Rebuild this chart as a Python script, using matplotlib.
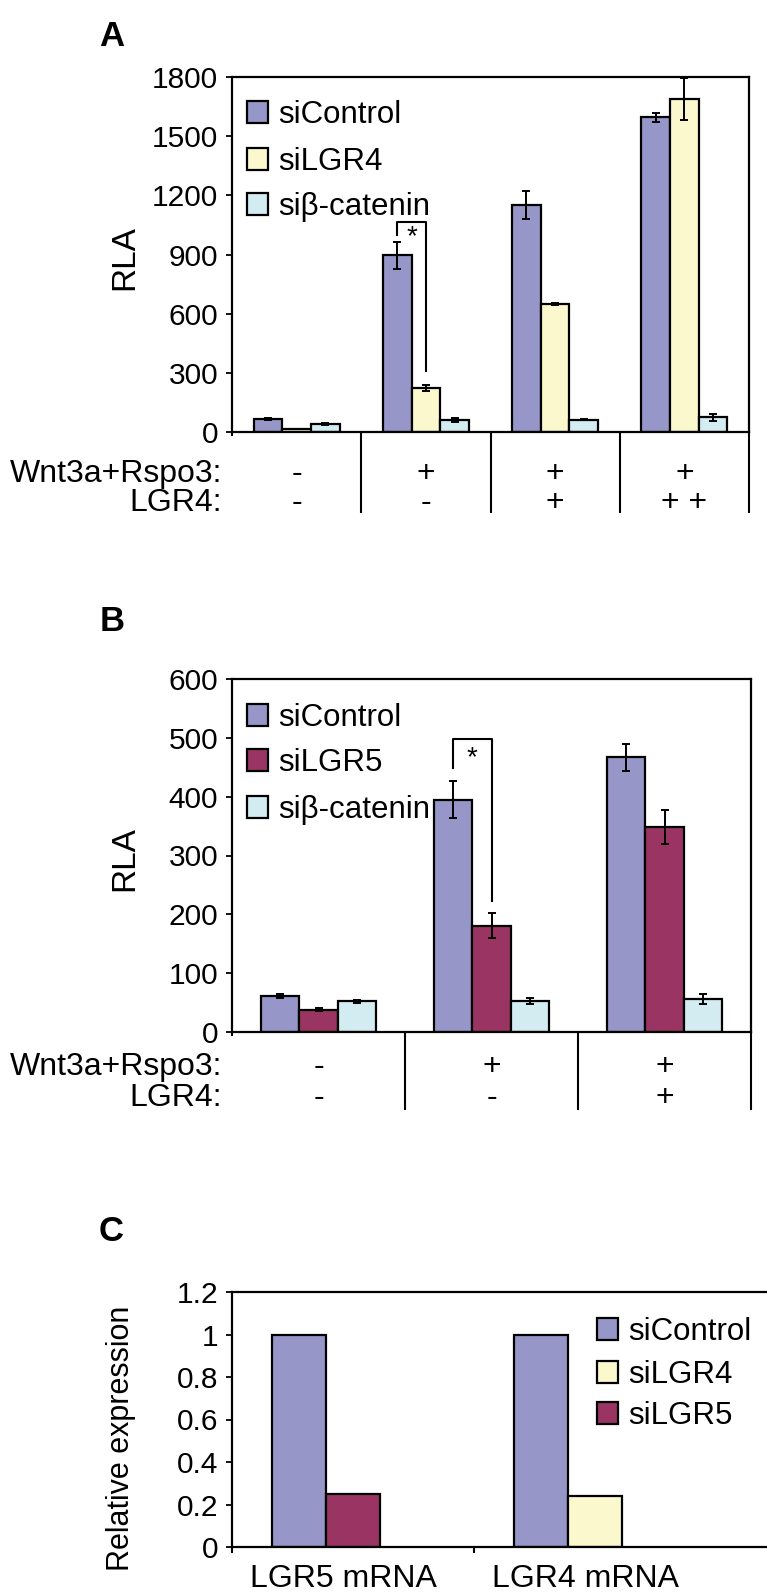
import numpy as np
import matplotlib
matplotlib.use("Agg")
import matplotlib.pyplot as plt
import matplotlib.transforms as mtransforms
from matplotlib.patches import Rectangle

plt.rcParams["font.family"] = ["Liberation Sans", "DejaVu Sans"]

# ---- data ----
series_a = ["siControl", "siLGR4", "siβ-catenin"]
a_control = [66, 895, 1150, 1595]
a_control_err = [6, 67, 70, 24]
a_lgr4 = [15, 222, 648, 1688]
a_lgr4_err = [2, 15, 6, 106]
a_bcat = [40, 60, 62, 75]
a_bcat_err = [5, 9, 2, 18]
a_wnt = ["-", "+", "+", "+"]
a_lgr4_row = ["-", "-", "+", "+ +"]

series_b = ["siControl", "siLGR5", "siβ-catenin"]
b_control = [61, 395, 467]
b_control_err = [4, 32, 23]
b_lgr5 = [38, 181, 349]
b_lgr5_err = [2, 22, 29]
b_bcat = [52, 52, 56]
b_bcat_err = [3, 5, 9]
b_wnt = ["-", "+", "+"]
b_lgr4_row = ["-", "-", "+"]

c_categories = ["LGR5 mRNA", "LGR4 mRNA"]
series_c = ["siControl", "siLGR4", "siLGR5"]
c_control = [1.0, 1.0]
c_lgr4 = [np.nan, 0.24]
c_lgr5 = [0.25, np.nan]

# brackets: (left leg bottom, top, right leg bottom, star y)
a_bracket = (1000, 1064, 310, 990)
b_bracket = (448, 498, 223, 466)

col_ctrl = "#9696C8"
col_lgr4 = "#FCF8CE"
col_bcat = "#D3ECF2"
col_lgr5 = "#9A3463"

W, H = 767, 1592
fig = plt.figure(figsize=(W / 100, H / 100), dpi=100)
pix = mtransforms.Affine2D().scale(1 / W, -1 / H).translate(0, 1) + fig.transFigure


def frect(l, t, r, b):
    return [l / W, 1 - b / H, (r - l) / W, (b - t) / H]


bw = 1 / 4.5
FS_TICK = 21.5
FS_TXT = 23


def style_axes(ax, ymax, step, ylabel, ylab_y, labels=None, ylab_fs=24):
    ax.set_ylim(0, ymax)
    ticks = np.arange(0, ymax + step / 2, step)
    ax.set_yticks(ticks)
    if labels is not None:
        ax.set_yticklabels(labels)
    ax.tick_params(axis="y", direction="out", length=4.5, width=1.3,
                   labelsize=FS_TICK, pad=5.5)
    for s in ax.spines.values():
        s.set_linewidth(1.6)
    ax.set_ylabel(ylabel, fontsize=ylab_fs, va="center", ha="center")
    ax.yaxis.set_label_coords(-0.207, ylab_y)


def legend(entries, x, baselines):
    for (lab, col), yb in zip(entries, baselines):
        fig.add_artist(Rectangle((x, yb), 21, -22, transform=pix, facecolor=col,
                                 edgecolor="black", linewidth=1.6))
        fig.text(x + 31, yb, lab, transform=pix, fontsize=22.5, va="baseline", ha="left")


def bars3(ax, vals, errs, cols):
    n = len(vals[0])
    x = np.arange(n)
    for k, (v, e, c) in enumerate(zip(vals, errs, cols)):
        xx = x + (k - 1) * bw
        ax.bar(xx, v, width=bw, color=c, edgecolor="black", linewidth=1.6, zorder=2)
        if e is not None:
            ax.errorbar(xx, v, yerr=e, fmt="none", ecolor="black", elinewidth=1.4,
                        capsize=3.2, capthick=1.4, zorder=3)
    ax.set_xlim(-0.5, n - 0.5)


def bracket(ax, g, br):
    l0, top, r0, sy = br
    xl = g - bw
    xr = g
    ax.plot([xl, xl, xr, xr], [l0, top, top, r0], color="black", lw=1.5, zorder=4)
    ax.text((xl + xr) / 2, sy, "*", fontsize=20, ha="center", va="center", zorder=4)


def rows(ax, row1, row2, yb1, yb2, xlab):
    bt = mtransforms.blended_transform_factory(ax.transData, pix)
    fig.text(xlab, yb1, "Wnt3a+Rspo3:", transform=pix, fontsize=FS_TXT, ha="right", va="baseline")
    fig.text(xlab, yb2, "LGR4:", transform=pix, fontsize=FS_TXT, ha="right", va="baseline")
    for i, (s1, s2) in enumerate(zip(row1, row2)):
        ax.text(i, yb1, s1, transform=bt, fontsize=FS_TXT, ha="center", va="baseline")
        ax.text(i, yb2, s2, transform=bt, fontsize=FS_TXT, ha="center", va="baseline")


def sep_ticks(ax, n, length_px):
    ax.set_xticks(np.arange(n) + 0.5)
    ax.set_xticklabels([])
    ax.tick_params(axis="x", which="major", direction="out", length=length_px * 0.72,
                   width=1.5)
    ax.set_xticks([-0.5], minor=True)
    ax.tick_params(axis="x", which="minor", direction="out", length=3, width=1.5)


# ---- panel A ----
ax_a = fig.add_axes(frect(232, 77, 749, 432))
bars3(ax_a, [a_control, a_lgr4, a_bcat], [a_control_err, a_lgr4_err, a_bcat_err],
      [col_ctrl, col_lgr4, col_bcat])
style_axes(ax_a, 1800, 300, "RLA", 0.49)
sep_ticks(ax_a, 4, 81)
bracket(ax_a, 1, a_bracket)
legend(list(zip(series_a, [col_ctrl, col_lgr4, col_bcat])), 247, [123, 170, 215])
rows(ax_a, a_wnt, a_lgr4_row, 482, 511, 222)
fig.text(112, 46, "A", transform=pix, fontsize=25, fontweight="bold", ha="center", va="baseline")

# ---- panel B ----
ax_b = fig.add_axes(frect(232, 679, 751, 1032))
bars3(ax_b, [b_control, b_lgr5, b_bcat], [b_control_err, b_lgr5_err, b_bcat_err],
      [col_ctrl, col_lgr5, col_bcat])
style_axes(ax_b, 600, 100, "RLA", 0.49)
sep_ticks(ax_b, 3, 78)
bracket(ax_b, 1, b_bracket)
legend(list(zip(series_b, [col_ctrl, col_lgr5, col_bcat])), 247, [726, 771, 818])
rows(ax_b, b_wnt, b_lgr4_row, 1075, 1106, 222)
fig.text(112, 631, "B", transform=pix, fontsize=25, fontweight="bold", ha="center", va="baseline")

# ---- panel C ----
ax_c = fig.add_axes(frect(232, 1292, 767, 1547))
xc = np.arange(len(c_categories))
ax_c.bar(xc - bw, c_control, width=bw, color=col_ctrl, edgecolor="black", linewidth=1.6, zorder=2)
ax_c.bar(xc, c_lgr4, width=bw, color=col_lgr4, edgecolor="black", linewidth=1.6, zorder=2)
ax_c.bar(xc, c_lgr5, width=bw, color=col_lgr5, edgecolor="black", linewidth=1.6, zorder=2)
ax_c.set_xlim(-0.5, -0.5 + (767 - 232) / 242)
style_axes(ax_c, 1.2, 0.2, "Relative expression", 0.425,
           labels=["0", "0.2", "0.4", "0.6", "0.8", "1", "1.2"], ylab_fs=22)
ax_c.spines["right"].set_visible(False)
ax_c.set_xticks([0.5])
ax_c.set_xticklabels([])
ax_c.tick_params(axis="x", which="major", direction="out", length=4.5, width=1.5)
ax_c.set_xticks([-0.5], minor=True)
ax_c.tick_params(axis="x", which="minor", direction="out", length=4.5, width=1.5)
bt_c = mtransforms.blended_transform_factory(ax_c.transData, pix)
for i, lab in enumerate(c_categories):
    ax_c.text(i - 0.04, 1587, lab, transform=bt_c, fontsize=FS_TXT, ha="center", va="baseline")
legend(list(zip(series_c, [col_ctrl, col_lgr4, col_lgr5])), 597, [1340, 1383, 1424])
fig.text(111, 1241, "C", transform=pix, fontsize=25, fontweight="bold", ha="center", va="baseline")

fig.savefig("out.png", dpi=100)
